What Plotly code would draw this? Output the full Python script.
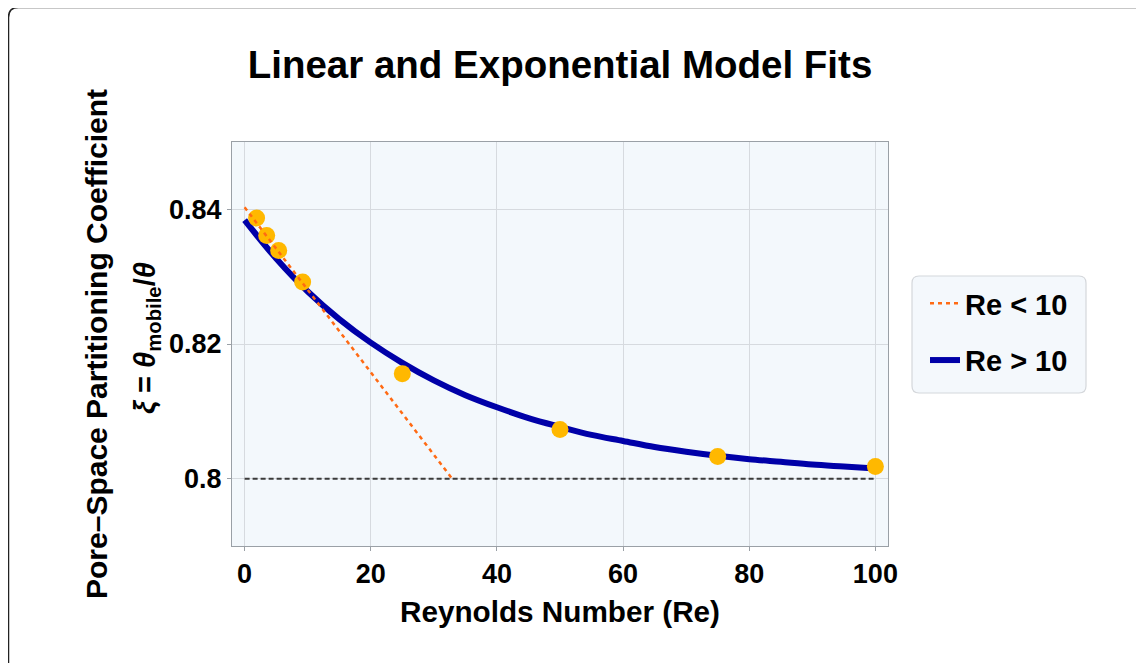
import plotly.graph_objects as go

# ---------------- data ----------------
re_obs = [1.9, 3.5, 5.4, 9.2, 25, 50, 75, 100]
xi_obs = [0.8387, 0.8361, 0.8339, 0.8292, 0.8156, 0.8073, 0.8033, 0.8018]

re_lin = [0, 32.9]
xi_lin = [0.8403, 0.8000]

re_exp = [0, 5, 10, 15, 20, 25, 30, 35, 40, 45, 50, 55, 60, 65, 70, 75, 80, 85, 90, 95, 100]
xi_exp = [0.8384, 0.8327, 0.8278, 0.8237, 0.8202, 0.8172, 0.8146, 0.8124, 0.8106, 0.8090,
          0.8077, 0.8065, 0.8056, 0.8047, 0.8040, 0.8034, 0.8029, 0.8025, 0.8021, 0.8018, 0.8015]

re_base = [0, 100]
xi_base = [0.8, 0.8]

x_ticks = [0, 20, 40, 60, 80, 100]
y_ticks = [0.80, 0.82, 0.84]
y_ticktext = ["0.8", "0.82", "0.84"]

series_names = ["Re < 10", "Re > 10"]

# ---------------- layout geometry (pixels, in reference screenshot coords) ----------------
OFF = 8  # page body margin offset
W, H = 1144 - OFF, 663 - OFF
L, R, T, B = 232, 888, 142, 546
PW, PH = R - L, B - T

def px(xp):
    return (xp - L) / PW

def py(yp):
    return (B - yp) / PH

def esc(s):
    return s.replace("<", "&lt;").replace(">", "&gt;")

FONT = "Liberation Sans, Arial, sans-serif"
ORANGE = "#FF6A13"
BLUE = "#0000A8"
GOLD = "#FFB800"

fig = go.Figure()

fig.add_trace(go.Scatter(x=re_base, y=xi_base, mode="lines",
                         line=dict(color="#3A3A3A", width=2, dash="5px,3px"),
                         showlegend=False, hoverinfo="skip"))
fig.add_trace(go.Scatter(x=re_exp, y=xi_exp, mode="lines", name=f"<b>{esc(series_names[1])}</b>",
                         line=dict(color=BLUE, width=6, shape="spline"),
                         legendgroup="b", legendrank=2))
fig.add_trace(go.Scatter(x=re_obs, y=xi_obs, mode="markers",
                         marker=dict(color=GOLD, size=17, line=dict(width=0)),
                         showlegend=False))
fig.add_trace(go.Scatter(x=re_lin, y=xi_lin, mode="lines", name=f"<b>{esc(series_names[0])}</b>",
                         line=dict(color=ORANGE, width=2.5, dash="4px,4px"),
                         legendgroup="a", legendrank=1))

def rounded_rect(x0, y0, x1, y1, r):
    dx, dy = r / PW, r / PH
    X0, X1 = px(x0), px(x1)
    Y0, Y1 = py(y0), py(y1)  # Y0 top, Y1 bottom
    return (f"M {X0+dx},{Y0} L {X1-dx},{Y0} Q {X1},{Y0} {X1},{Y0-dy} "
            f"L {X1},{Y1+dy} Q {X1},{Y1} {X1-dx},{Y1} L {X0+dx},{Y1} "
            f"Q {X0},{Y1} {X0},{Y1+dy} L {X0},{Y0-dy} Q {X0},{Y0} {X0+dx},{Y0} Z")

frame_path = rounded_rect(8.5, 7.5, 1165, 690, 10)
legend_path = rounded_rect(912, 276, 1086, 393, 7)

fig.update_layout(
    width=W, height=H,
    margin=dict(l=L - OFF, r=W - (R - OFF), t=T - OFF, b=H - (B - OFF)),
    paper_bgcolor="white",
    plot_bgcolor="#F3F8FC",
    font=dict(family=FONT, color="black"),
    title=dict(text="<b>Linear and Exponential Model Fits</b>",
               xref="paper", x=px(560), xanchor="center",
               yref="container", y=1 - (65 - OFF) / H, yanchor="middle",
               font=dict(size=38.5, family=FONT, color="black")),
    xaxis=dict(range=[-2, 102], tickvals=x_ticks,
               ticktext=[f"<b>{v}</b>" for v in x_ticks],
               tickfont=dict(size=27, family=FONT, color="black"),
               showgrid=True, gridcolor="#D6DADF", gridwidth=1,
               zeroline=False, showline=True, linecolor="#9AA0A6", linewidth=1,
               mirror=True, ticks="outside", ticklen=4, tickcolor="#9AA0A6",
               title=dict(text="<b>Reynolds Number (Re)</b>",
                          font=dict(size=29.7, family=FONT, color="black"), standoff=12)),
    yaxis=dict(range=[0.79, 0.85], tickvals=y_ticks,
               ticktext=[f"<b>{t}</b>" for t in y_ticktext],
               tickfont=dict(size=27, family=FONT, color="black"),
               showgrid=True, gridcolor="#D6DADF", gridwidth=1,
               zeroline=False, showline=True, linecolor="#9AA0A6", linewidth=1,
               mirror=True, ticks="outside", ticklen=4, tickcolor="#9AA0A6"),
    legend=dict(x=px(925), xanchor="left", y=py(278), yanchor="top",
                bgcolor="rgba(0,0,0,0)", borderwidth=0,
                font=dict(size=29, family=FONT, color="black"),
                tracegroupgap=16, itemwidth=30),
    shapes=[
        dict(type="path", path=frame_path, xref="paper", yref="paper",
             line=dict(color="#222222", width=1.5), fillcolor="rgba(0,0,0,0)", layer="above"),
        dict(type="path", path=legend_path, xref="paper", yref="paper",
             line=dict(color="#D4D7DB", width=1.2), fillcolor="#F4F8FC", layer="below"),
    ],
    annotations=[
        dict(text="<b>Pore\u2013Space Partitioning Coefficient</b>", textangle=-90,
             x=px(96), y=py(344), xref="paper", yref="paper",
             xanchor="center", yanchor="middle", showarrow=False,
             font=dict(size=30, family=FONT, color="black")),
        dict(text="<b><i>\u03be</i> = <i>\u03b8</i><sub>mobile</sub>/<i>\u03b8</i></b>", textangle=-90,
             x=px(147), y=py(338), xref="paper", yref="paper",
             xanchor="center", yanchor="middle", showarrow=False,
             font=dict(size=29, family=FONT, color="black")),
    ],
)

fig.write_html("out.html")
